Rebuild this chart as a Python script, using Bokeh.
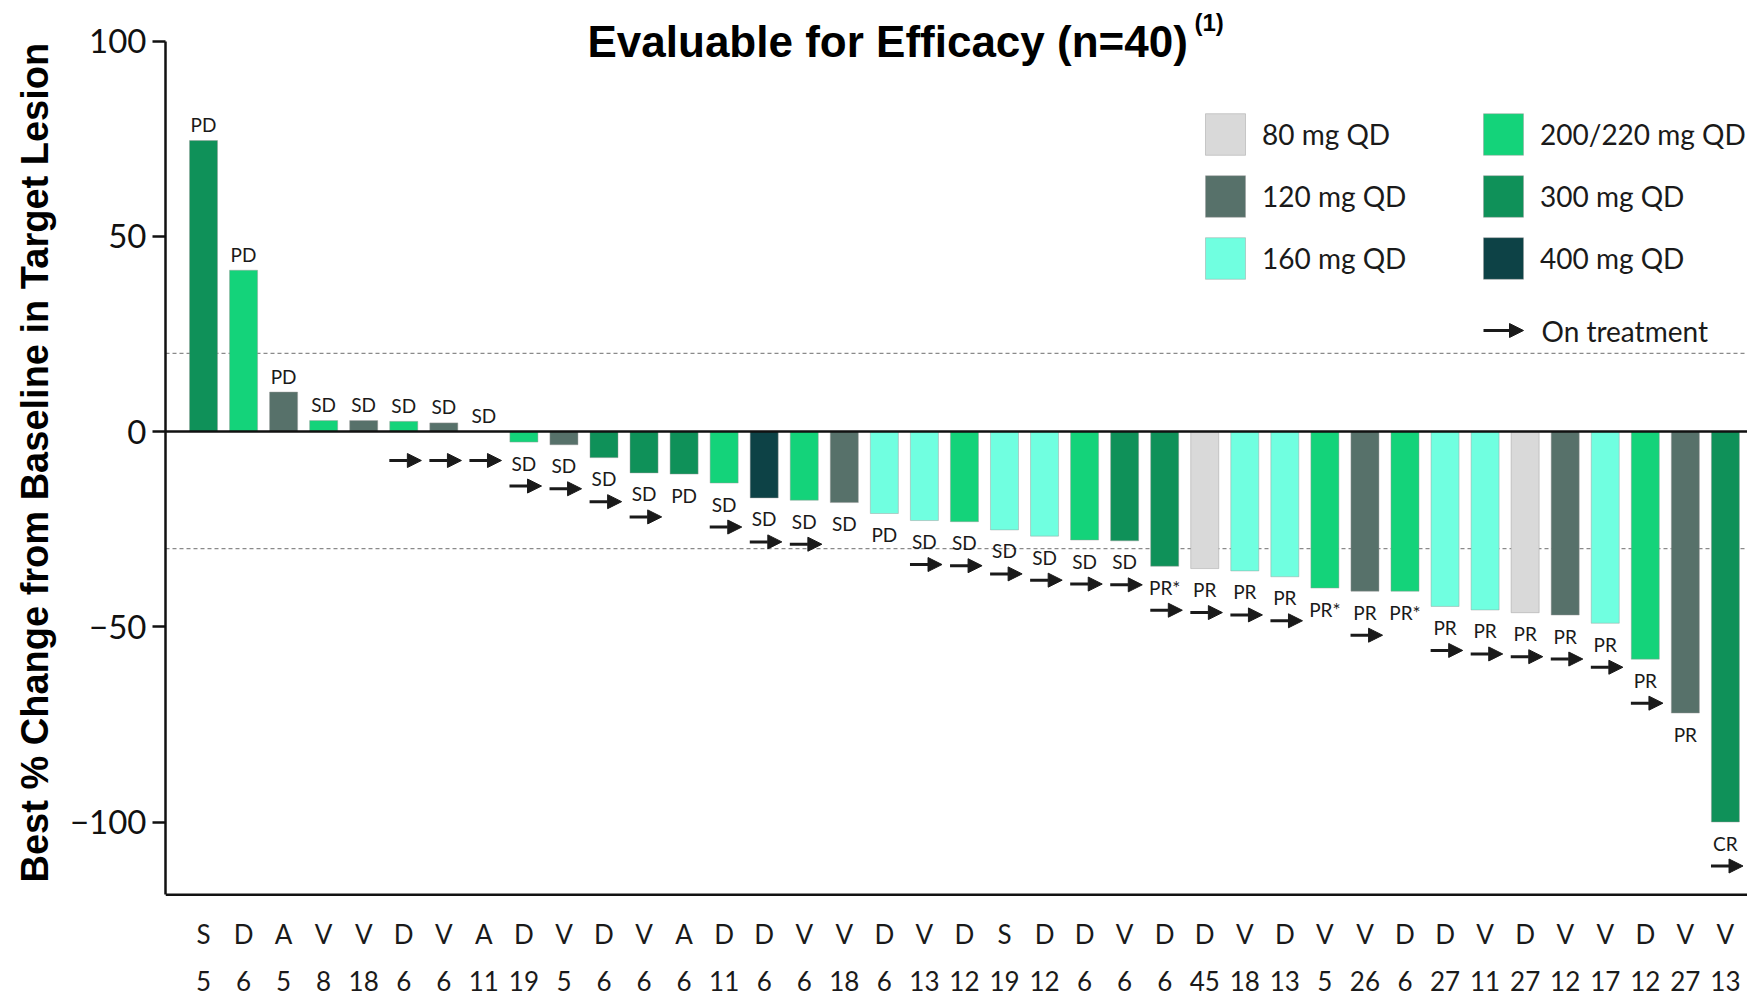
from bokeh.plotting import figure
from bokeh.models import (ColumnDataSource, Range1d, FixedTicker, Span, LabelSet, Label,
                          Arrow, NormalHead, Legend, LegendItem, Title)
from bokeh.core.properties import value
from bokeh.embed import file_html
from bokeh.resources import INLINE

# ---------------- data ----------------
letters = ["S", "D", "A", "V", "V", "D", "V", "A", "D", "V", "D", "V", "A", "D", "D", "V", "V", "D", "V", "D",
           "S", "D", "D", "V", "D", "D", "V", "D", "V", "V", "D", "D", "V", "D", "V", "V", "D", "V", "V"]
numbers = ["5", "6", "5", "8", "18", "6", "6", "11", "19", "5", "6", "6", "6", "11", "6", "6", "18", "6", "13", "12",
           "19", "12", "6", "6", "6", "45", "18", "13", "5", "26", "6", "27", "11", "27", "12", "17", "12", "27", "13"]
doses = ["300 mg QD", "200/220 mg QD", "120 mg QD", "200/220 mg QD", "120 mg QD", "200/220 mg QD", "120 mg QD",
         "120 mg QD", "200/220 mg QD", "120 mg QD", "300 mg QD", "300 mg QD", "300 mg QD", "200/220 mg QD",
         "400 mg QD", "200/220 mg QD", "120 mg QD", "160 mg QD", "160 mg QD", "200/220 mg QD", "160 mg QD",
         "160 mg QD", "200/220 mg QD", "300 mg QD", "300 mg QD", "80 mg QD", "160 mg QD", "160 mg QD",
         "200/220 mg QD", "120 mg QD", "200/220 mg QD", "160 mg QD", "160 mg QD", "80 mg QD", "120 mg QD",
         "160 mg QD", "200/220 mg QD", "120 mg QD", "300 mg QD"]
values = [74.5, 41.3, 10.1, 2.8, 2.8, 2.6, 2.2, 0.0, -2.7, -3.4, -6.7, -10.6, -10.9, -13.2, -17.0, -17.6, -18.2,
          -21.0, -22.8, -23.1, -25.2, -26.8, -27.8, -28.0, -34.5, -35.1, -35.7, -37.2, -40.1, -40.9, -40.9, -44.8,
          -45.7, -46.4, -47.0, -49.1, -58.3, -72.1, -100.0]
responses = ["PD", "PD", "PD", "SD", "SD", "SD", "SD", "SD", "SD", "SD", "SD", "SD", "PD", "SD", "SD", "SD", "SD",
             "PD", "SD", "SD", "SD", "SD", "SD", "SD", "PR*", "PR", "PR", "PR", "PR*", "PR", "PR*", "PR", "PR", "PR",
             "PR", "PR", "PR", "PR", "CR"]
on_treatment = [0, 0, 0, 0, 0, 1, 1, 1, 1, 1, 1, 1, 0, 1, 1, 1, 0, 0, 1, 1, 1, 1, 1, 1, 1, 1, 1, 1, 0, 1, 0, 1, 1,
                1, 1, 1, 1, 0, 1]

dose_order = ["80 mg QD", "120 mg QD", "160 mg QD", "200/220 mg QD", "300 mg QD", "400 mg QD"]
dose_colors = ["#D9D9D9", "#57716A", "#70FFE0", "#14D37A", "#0F9159", "#0D4246"]
y_ticks = [-100, -50, 0, 50, 100]
response_lines = [20, -30]

title_text = "Evaluable for Efficacy (n=40)"
title_sup = "(1)"
y_title = "Best % Change from Baseline in Target Lesion"
arrow_legend_text = "On treatment"

# ---------------- layout ----------------
W, H = 1747, 997
LEFT = 165
PX = 3.905                       # pixels per % unit
ZERO_PX = 431                    # page y of the 0 line
Y_TOP = ZERO_PX / PX
Y_BOT = -(H - ZERO_PX) / PX
AXIS_MIN = -118.6                # lower end of the drawn y axis / x axis line
SLOT = 40.05                     # pixels per bar slot
FIRST_PX = 203                   # page x of first bar centre
X_START = (LEFT - FIRST_PX) / SLOT
X_END = (W - FIRST_PX) / SLOT
INK = "#1a1a1a"

p = figure(width=W, height=H, x_range=Range1d(X_START, X_END), y_range=Range1d(Y_BOT, Y_TOP),
           output_backend="svg", toolbar_location=None, title=None, x_axis_location=None)
p.min_border = 0
p.min_border_left = LEFT
p.min_border_right = 0
p.min_border_top = 0
p.min_border_bottom = 0
p.outline_line_color = None
p.grid.visible = False
p.background_fill_color = "white"
p.border_fill_color = "white"

# y axis
p.yaxis.bounds = (AXIS_MIN, 100)
p.yaxis.ticker = FixedTicker(ticks=y_ticks)
p.yaxis.major_label_overrides = {t: (str(t).replace("-", "\u2212")) for t in y_ticks}
p.yaxis.minor_tick_line_color = None
p.yaxis.major_tick_in = 0
p.yaxis.major_tick_out = 13
p.yaxis.major_tick_line_width = 2.5
p.yaxis.major_tick_line_color = "#111111"
p.yaxis.axis_line_width = 2.5
p.yaxis.axis_line_color = "#111111"
p.yaxis.major_label_text_font = "Lato"
p.yaxis.major_label_text_font_size = "33px"
p.yaxis.major_label_text_color = "#111111"
p.yaxis.major_label_standoff = 6

# y-axis title, starting near the bottom of the drawn axis
p.add_layout(Title(text=y_title, align="left", vertical_align="top", offset=115, standoff=18,
                   text_font="Liberation Sans", text_font_style="bold", text_font_size="38px",
                   text_color="#000000"), "left")

# bottom axis line
p.add_layout(Span(location=AXIS_MIN, dimension="width", line_color="#111111", line_width=2.5))

# reference lines
for loc in response_lines:
    p.add_layout(Span(location=loc, dimension="width", line_color="#8a8a8a", line_width=1.3,
                      line_dash="4 3", level="underlay"))

# bars by dose group
idx = list(range(len(values)))
renderers = {}
for d, c in zip(dose_order, dose_colors):
    sel = [i for i in idx if doses[i] == d]
    src = ColumnDataSource(dict(x=sel, top=[values[i] for i in sel]))
    renderers[d] = p.vbar(x="x", top="top", bottom=0, width=0.7, source=src, fill_color=c,
                          line_color="#9a9a9a", line_alpha=0.45, line_width=1)

# zero line
p.add_layout(Span(location=0, dimension="width", line_color="#111111", line_width=2.5))

# response labels
lab_src = ColumnDataSource(dict(x=idx, y=values, text=responses,
                                off=[16 if v >= 0 else -21 for v in values]))
p.add_layout(LabelSet(x="x", y="y", text="text", y_offset="off", source=lab_src, text_align="center",
                      text_baseline="middle", text_font=value("Lato"), text_font_size="19px",
                      text_color=INK))

# on-treatment arrows
ax0, ax1, ay = [], [], []
for i, v in enumerate(values):
    if on_treatment[i]:
        ax0.append(i - 0.36)
        ax1.append(i + 0.44)
        ay.append((-29 / PX) if v >= 0 else (v - 44 / PX))
arrow_src = ColumnDataSource(dict(x0=ax0, x1=ax1, y=ay))
p.add_layout(Arrow(end=NormalHead(size=14, fill_color=INK, line_color=INK), x_start="x0", y_start="y",
                   x_end="x1", y_end="y", source=arrow_src, line_width=3, line_color=INK))

# two rows of category labels under the axis
cat_src = ColumnDataSource(dict(x=idx, y=[AXIS_MIN] * len(idx), l=letters, n=numbers))
p.add_layout(LabelSet(x="x", y="y", text="l", y_offset=-39, source=cat_src, text_align="center",
                      text_baseline="middle", text_font=value("Lato"), text_font_size="26px",
                      text_color=INK))
p.add_layout(LabelSet(x="x", y="y", text="n", y_offset=-86, source=cat_src, text_align="center",
                      text_baseline="middle", text_font=value("Lato"), text_font_size="26px",
                      text_color=INK))

# legends (locations in pixels from the frame's bottom-left)
for names, loc in ((dose_order[:3], (1035, 713)), (dose_order[3:], (1313, 713))):
    leg = Legend(items=[LegendItem(label=d, renderers=[renderers[d]]) for d in names], location=loc)
    leg.glyph_width = 50
    leg.glyph_height = 52
    leg.spacing = 10
    leg.padding = 0
    leg.margin = 0
    leg.label_standoff = 12
    leg.label_text_font = "Lato"
    leg.label_text_font_size = "28px"
    leg.label_text_color = INK
    leg.label_text_baseline = "middle"
    leg.border_line_alpha = 0
    leg.background_fill_alpha = 0
    p.add_layout(leg)

p.add_layout(Arrow(end=NormalHead(size=14, fill_color=INK, line_color=INK), x_start=1318, y_start=667,
                   x_end=1358, y_end=667, start_units="screen", end_units="screen",
                   line_width=3, line_color=INK))
p.add_layout(Label(x=1376, y=667, x_units="screen", y_units="screen", text=arrow_legend_text,
                   text_font="Lato", text_font_size="28px", text_color=INK, text_baseline="middle"))

# title
p.add_layout(Label(x=422, y=956, x_units="screen", y_units="screen", text=title_text,
                   text_font="Liberation Sans", text_font_style="bold", text_font_size="44px",
                   text_color="#000000", text_baseline="middle"))
p.add_layout(Label(x=1029, y=975, x_units="screen", y_units="screen", text=title_sup,
                   text_font="Liberation Sans", text_font_style="bold", text_font_size="24px",
                   text_color="#000000", text_baseline="middle"))

open("out.html", "w").write(file_html(p, INLINE))
